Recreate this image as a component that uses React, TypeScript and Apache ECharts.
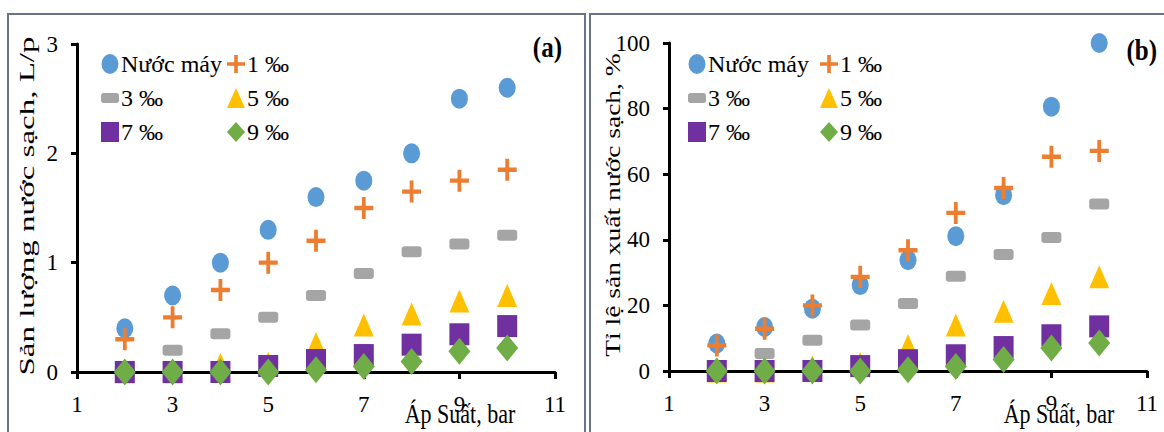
import React, { useEffect, useRef } from "react";
import * as echarts from "echarts";

const pressures = [2, 3, 4, 5, 6, 7, 8, 9, 10];
const seriesNames = ["Nước máy", "1 ‰", "3 ‰", "5 ‰", "7 ‰", "9 ‰"];

// Panel (a): Sản lượng nước sạch, L/p
const yieldTap = [0.4, 0.7, 1.0, 1.3, 1.6, 1.75, 2.0, 2.5, 2.6];
const yield1 = [0.3, 0.5, 0.75, 1.0, 1.2, 1.5, 1.65, 1.75, 1.85];
const yield3 = [0, 0.2, 0.35, 0.5, 0.7, 0.9, 1.1, 1.17, 1.25];
const yield5 = [0, 0, 0.07, 0.08, 0.26, 0.43, 0.53, 0.65, 0.7];
const yield7 = [0, 0, 0, 0.055, 0.11, 0.155, 0.25, 0.345, 0.42];
const yield9 = [0, 0, 0, 0, 0.02, 0.05, 0.095, 0.19, 0.22];

// Panel (b): Tỉ lệ sản xuất nước sạch, %
const rateTap = [8.4, 13.4, 19, 26.2, 33.8, 41.1, 53.6, 80.6, 100];
const rate1 = [7.8, 12.9, 20, 28.7, 36.8, 48.2, 55.8, 65.3, 67.1];
const rate3 = [0, 5.3, 9.4, 14, 20.6, 28.9, 35.5, 40.7, 50.9];
const rate5 = [0, 0, 1.3, 2.3, 7.8, 14, 18.2, 23.6, 28.7];
const rate7 = [0, 0, 0, 1.5, 3.3, 4.8, 7.3, 10.9, 13.6];
const rate9 = [0, 0, 0, 0, 0.4, 1.4, 3.5, 7.0, 8.5];

const xTicks = { min: 1, max: 11, interval: 2 };
const yTicksA = { min: 0, max: 3, interval: 1 };
const yTicksB = { min: 0, max: 100, interval: 20 };

const FONT = "'Liberation Serif', 'Times New Roman', serif";

const symbols = [
  "path://M0,10A8.5,10,0,1,1,17,10A8.5,10,0,1,1,0,10Z",
  "path://M8,0H12V8H20V12H12V20H8V12H0V8H8Z",
  "path://M3,0H17Q20,0,20,3V8Q20,11,17,11H3Q0,11,0,8V3Q0,0,3,0Z",
  "triangle",
  "rect",
  "diamond",
];
const sizes = [
  [17, 20],
  [19, 22],
  [20, 11],
  [20, 23],
  [20, 22],
  [22, 27],
];
const colors = ["#5B9BD5", "#ED7D31", "#A5A5A5", "#FFC000", "#7030A0", "#70AD47"];

export default function App() {
  const ref = useRef<HTMLDivElement>(null);

  useEffect(() => {
    if (!ref.current) return;
    const chart = echarts.init(ref.current, null, { renderer: "svg" });

    const panelA = [yieldTap, yield1, yield3, yield5, yield7, yield9];
    const panelB = [rateTap, rate1, rate3, rate5, rate7, rate9];

    const mkSeries = (vals: number[][], axis: number) =>
      vals.map((arr, i) => ({
        type: "scatter",
        name: seriesNames[i],
        xAxisIndex: axis,
        yAxisIndex: axis,
        symbol: symbols[i],
        symbolSize: sizes[i],
        itemStyle: { color: colors[i], opacity: 1 },
        emphasis: { disabled: true },
        data: pressures.map((p, k) => [p, arr[k]]),
      }));

    const axisLine = { show: true, onZero: false, lineStyle: { color: "#000", width: 3 } };
    const labelStyle = { fontFamily: FONT, fontSize: 23, color: "#000" };

    const mkX = (grid: number) => ({
      type: "value",
      gridIndex: grid,
      ...xTicks,
      axisLine,
      axisTick: { show: true, inside: false, length: 7, lineStyle: { color: "#000", width: 3 } },
      axisLabel: { ...labelStyle, margin: 21 },
      splitLine: { show: false },
    });
    const mkY = (grid: number, t: any) => ({
      type: "value",
      gridIndex: grid,
      ...t,
      axisLine,
      axisTick: { show: true, inside: false, length: 6, lineStyle: { color: "#000", width: 3 } },
      axisLabel: { ...labelStyle, margin: 19 },
      splitLine: { show: false },
    });

    const legendBase = {
      orient: "vertical",
      top: 47,
      itemWidth: 18,
      itemHeight: 20,
      itemGap: 10,
      selectedMode: false,
      textStyle: { fontFamily: FONT, fontSize: 24, color: "#000", lineHeight: 24, padding: [0, 0, 0, -3] },
    };

    const frameStyle = { fill: "none", stroke: "#6B7486", lineWidth: 2 };

    chart.setOption({
      animation: false,
      backgroundColor: "#fff",
      grid: [
        { left: 77, top: 44, width: 478, height: 328 },
        { left: 669, top: 43, width: 478, height: 328 },
      ],
      xAxis: [mkX(0), mkX(1)],
      yAxis: [mkY(0, yTicksA), mkY(1, yTicksB)],
      legend: [
        { ...legendBase, left: 96, data: [seriesNames[0], seriesNames[2], seriesNames[4]] },
        { ...legendBase, left: 222, data: [seriesNames[1], seriesNames[3], seriesNames[5]] },
        { ...legendBase, left: 683, data: [seriesNames[0], seriesNames[2], seriesNames[4]] },
        { ...legendBase, left: 815, data: [seriesNames[1], seriesNames[3], seriesNames[5]] },
      ],
      graphic: [
        { type: "rect", shape: { x: 8, y: 14, width: 577, height: 440 }, style: frameStyle, silent: true },
        { type: "rect", shape: { x: 590, y: 14, width: 600, height: 440 }, style: frameStyle, silent: true },
        {
          type: "text",
          x: 27,
          y: 206,
          rotation: Math.PI / 2,
          scaleX: 1.5,
          style: { text: "Sản lượng nước sạch, L/p", font: `22px ${FONT}`, fill: "#000", align: "center", verticalAlign: "middle" },
        },
        {
          type: "text",
          x: 612,
          y: 205,
          rotation: Math.PI / 2,
          scaleX: 1.25,
          style: { text: "Tỉ lệ sản xuất nước sạch, %", font: `22px ${FONT}`, fill: "#000", align: "center", verticalAlign: "middle" },
        },
        {
          type: "text",
          x: 460,
          y: 414,
          scaleY: 1.2,
          style: { text: "Áp Suất, bar", font: `22px ${FONT}`, fill: "#000", align: "center", verticalAlign: "middle" },
        },
        {
          type: "text",
          x: 1059,
          y: 414,
          scaleY: 1.2,
          style: { text: "Áp Suất, bar", font: `22px ${FONT}`, fill: "#000", align: "center", verticalAlign: "middle" },
        },
        {
          type: "text",
          x: 562,
          y: 47,
          scaleY: 1.2,
          style: { text: "(a)", font: `bold 25px ${FONT}`, fill: "#000", align: "right", verticalAlign: "middle" },
        },
        {
          type: "text",
          x: 1157,
          y: 50,
          scaleY: 1.2,
          style: { text: "(b)", font: `bold 25px ${FONT}`, fill: "#000", align: "right", verticalAlign: "middle" },
        },
      ],
      series: [...mkSeries(panelA, 0), ...mkSeries(panelB, 1)],
    });

    return () => chart.dispose();
  }, []);

  return (
    <div
      ref={ref}
      style={{ position: "absolute", left: 0, top: 0, width: 1164, height: 432, background: "#fff" }}
    />
  );
}
